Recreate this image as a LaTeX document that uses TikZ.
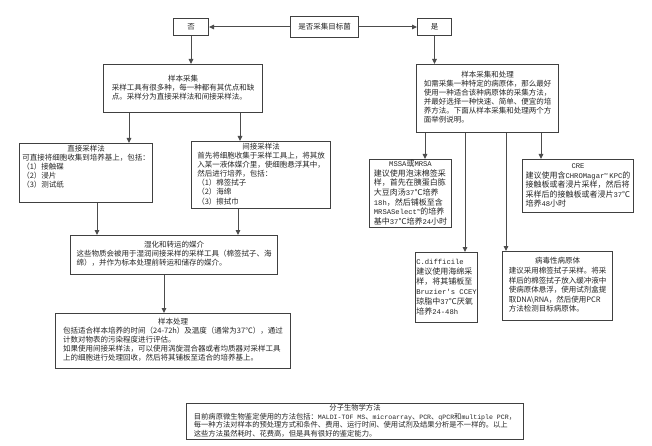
\documentclass[tikz,border=0pt]{standalone}
\usepackage{fontspec}
\newfontfamily\cjk{Noto Sans CJK SC}
\newfontfamily\lmono[Scale=0.9]{Liberation Mono}
\usetikzlibrary{arrows.meta}
\newcommand\mm[1]{{\lmono #1}}
\newcommand\tm{\raisebox{1.2pt}{\lmono\fontsize{6}{6}\selectfont ™}}
\newcommand\ttl[1]{\multicolumn{1}{@{}c@{}}{#1}}
\tikzset{
  box/.style={draw=black!75, line width=1pt, inner sep=0pt, anchor=north west,
    font=\cjk\fontsize{7.5}{9}\selectfont, text=black!85, align=center},
  song/.style={box, font=\cjk\fontsize{8}{9.5}\selectfont},
  txt/.style={inner sep=0pt, font=\cjk\fontsize{7.5}{9}\selectfont, text=black!85},
  arr/.style={draw=black!70, line width=1pt, -{Triangle[length=5pt,width=4.5pt]}},
}
\begin{document}
\begin{tikzpicture}[x=1pt,y=-1pt]
\useasboundingbox[fill=white] (0,0) rectangle (652,446);

\node[box, minimum width=68pt, minimum height=21pt] (q) at (290,16) {是否采集目标菌};
\node[box, minimum width=35pt, minimum height=17pt] (no) at (173,18) {否};
\node[box, minimum width=34pt, minimum height=17pt] (yes) at (417,18) {是};

\node[box, minimum width=159pt, minimum height=48pt] (collect) at (103,64)
{\begin{tabular}{@{}l@{}}\ttl{样本采集}\\
采样工具有很多种，每一种都有其优点和缺\\
点。采样分为直接采样法和间接采样法。\end{tabular}};

\node[box, minimum width=133pt, minimum height=59pt] (direct) at (19,143) {};
\node[txt, anchor=north] (directtxt) at ([yshift=-2pt]direct.north)
{\begin{tabular}{@{}l@{}}\ttl{直接采样法}\\
可直接将细胞收集到培养基上，包括：\\
（1）接触碟\\
（2）浸片\\
（3）测试纸\end{tabular}};

\node[box, minimum width=139pt, minimum height=67pt] (indirect) at (191,141) {};
\node[txt, anchor=north] (indirecttxt) at ([yshift=-2pt]indirect.north)
{\begin{tabular}{@{}l@{}}\ttl{间接采样法}\\
首先将细胞收集于采样工具上，将其放\\
入某一液体媒介里，使细胞悬浮其中，\\
然后进行培养，包括：\\
（1）棉签拭子\\
（2）海绵\\
（3）擦拭巾\end{tabular}};

\node[box, minimum width=207pt, minimum height=39pt] (wet) at (70,235)
{\begin{tabular}{@{}l@{}}\ttl{湿化和转运的媒介}\\
这些物质会被用于湿润间接采样的采样工具（棉签拭子、海\\
绵），并作为标本处理前转运和储存的媒介。\end{tabular}};

\node[box, minimum width=235pt, minimum height=55pt] (proc) at (55,313)
{\begin{tabular}{@{}l@{}}\ttl{样本处理}\\
包括适合样本培养的时间（24-72h）及温度（通常为37℃），通过\\
计数对物表的污染程度进行评估。\\
如果使用间接采样法，可以使用涡旋混合器或者均质器对采样工具\\
上的细胞进行处理回收，然后将其铺板至适合的培养基上。\end{tabular}};

\node[box, minimum width=142pt, minimum height=68pt] (collect2) at (416,64)
{\begin{tabular}{@{}l@{}}\ttl{样本采集和处理}\\
如需采集一种特定的病原体，那么最好\\
使用一种适合该种病原体的采集方法，\\
并最好选择一种快速、简单、便宜的培\\
养方法。下面从样本采集和处理两个方\\
面举例说明。\end{tabular}};

\node[song, minimum width=82pt, minimum height=68pt] (mssa) at (369,159)
{\begin{tabular}{@{}l@{}}\ttl{\mm{MSSA}或\mm{MRSA}}\\
建议使用泡沫棉签采\\
样，首先在胰蛋白胨\\
大豆肉汤\mm{37}℃培养\\
\mm{18h}，然后铺板至含\\
\mm{MRSASelect}\tm 的培养\\
基中\mm{37}℃培养\mm{24}小时\end{tabular}};

\node[song, font=\cjk\fontsize{8}{8.8}\selectfont, minimum width=111pt, minimum height=53pt] (cre) at (522,159)
{\begin{tabular}{@{}l@{}}\ttl{\mm{CRE}}\\
建议使用含\mm{CHROMagar}\tm\ \mm{KPC}的\\
接触板或者浸片采样，然后将\\
采样后的接触板或者浸片\mm{37}℃\\
培养\mm{48}小时\end{tabular}};

\node[song, font=\cjk\fontsize{8}{10}\selectfont, minimum width=62pt, minimum height=70pt] (cdiff) at (415,252)
{\begin{tabular}{@{}l@{}}\mm{C.difficile}\\
建议使用海绵采\\
样，将其铺板至\\
\mm{Bruzier's CCEY}\\
琼脂中\mm{37}℃厌氧\\
培养\mm{24-48h}\end{tabular}};

\node[box, font=\cjk\fontsize{7.5}{9.6}\selectfont, minimum width=110pt, minimum height=69pt] (virus) at (502,251)
{\begin{tabular}{@{}l@{}}\ttl{病毒性病原体}\\
建议采用棉签拭子采样。将采\\
样后的棉签拭子放入缓冲液中\\
使病原体悬浮，使用试剂盒提\\
取DNA\textbackslash RNA，然后使用PCR\\
方法检测目标病原体。\end{tabular}};

\node[song, font=\cjk\fontsize{7.3}{8}\selectfont, minimum width=337pt, minimum height=36pt] (mol) at (186,403)
{\begin{tabular}{@{}l@{}}\ttl{分子生物学方法}\\
目前病原微生物鉴定使用的方法包括：\mm{MALDI-TOF MS}、\mm{microarray}、\mm{PCR}、\mm{qPCR}和\mm{multiple PCR}，\\
每一种方法对样本的预处理方式和条件、费用、运行时间、使用试剂及结果分析是不一样的。以上\\
这些方法虽然耗时、花费高，但是具有很好的鉴定能力。\end{tabular}};

\draw[arr] (q.west) -- (no.east);
\draw[arr] (q.east) -- (yes.west);
\draw[arr] (no.south) -- (no.south |- collect.north);
\draw[arr] (yes.south) -- (yes.south |- collect2.north);
\draw[arr] (129,0 |- collect.south) -- (129,0 |- direct.north);
\draw[arr] (240,0 |- collect.south) -- (240,0 |- indirect.north);
\draw[arr] (97,0 |- direct.south) -- (97,0 |- wet.north);
\draw[arr] (238,0 |- indirect.south) -- (238,0 |- wet.north);
\draw[arr] (164,0 |- wet.south) -- (164,0 |- proc.north);
\draw[arr] (425,0 |- collect2.south) -- (425,0 |- mssa.north);
\draw[arr] (465,0 |- collect2.south) -- (465,0 |- cdiff.north);
\draw[arr] (506,0 |- collect2.south) -- (506,0 |- virus.north);
\draw[arr] (541,0 |- collect2.south) -- (541,0 |- cre.north);
\end{tikzpicture}
\end{document}
